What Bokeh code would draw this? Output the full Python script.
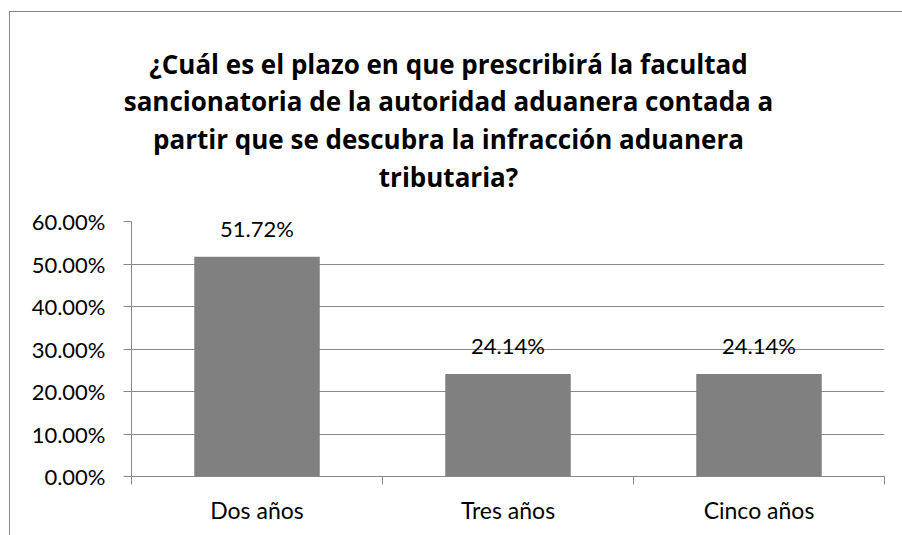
from bokeh.plotting import figure
from bokeh.models import (ColumnDataSource, Range1d, FixedTicker, NumeralTickFormatter,
                          LabelSet, Label)
from bokeh.core.properties import value
from bokeh.embed import file_html
from bokeh.resources import INLINE

categories = ["Dos años", "Tres años", "Cinco años"]
values = [0.5172, 0.2414, 0.2414]
value_labels = ["51.72%", "24.14%", "24.14%"]
y_ticks = [0.0, 0.1, 0.2, 0.3, 0.4, 0.5, 0.6]
title_lines = [
    "¿Cuál es el plazo en que prescribirá la facultad",
    "sancionatoria de la autoridad aduanera contada a",
    "partir que se descubra la infracción aduanera",
    "tributaria?",
]

GRAY = "#888888"
FONT = "Lato"
TITLE_FONT = "Open Sans"

# frame geometry (canvas pixels)
FL, FR, FT, FB = 131, 884, 221, 476
W, H = 902, 535

x = [i + 0.5 for i in range(len(categories))]
bounds = list(range(len(categories) + 1))
src = ColumnDataSource(dict(x=x, top=values, cat=categories, lab=value_labels))

p = figure(width=W, height=H, x_range=Range1d(0, len(categories)), y_range=Range1d(0, 0.6),
           output_backend="svg", toolbar_location=None,
           min_border_left=FL, min_border_right=W - FR, min_border_top=FT,
           min_border_bottom=H - FB)
p.outline_line_color = None
p.background_fill_color = "white"
p.border_fill_alpha = 0
# outer chart border (left and top edges; right/bottom fall outside the window)
p.styles = {
    "background": (f"linear-gradient({GRAY},{GRAY}) 9px 11px / 1px 100% no-repeat, "
                   f"linear-gradient({GRAY},{GRAY}) 9px 11px / 100% 1px no-repeat, white"),
}

p.vbar(x="x", top="top", bottom=0, width=0.5, source=src,
       fill_color="#808080", line_color=None)

# x axis
p.xaxis.ticker = FixedTicker(ticks=x, minor_ticks=bounds)
p.xaxis.major_label_overrides = {xi: c for xi, c in zip(x, categories)}
p.xaxis.major_tick_out = 0
p.xaxis.major_tick_in = 0
p.xaxis.minor_tick_out = 8
p.xaxis.minor_tick_in = 0
p.xaxis.minor_tick_line_color = GRAY
p.xaxis.axis_line_color = GRAY
p.xaxis.major_label_standoff = 11
p.xaxis.major_label_text_font = FONT
p.xaxis.major_label_text_font_size = "23px"
p.xaxis.major_label_text_color = "black"

# y axis
p.yaxis.ticker = FixedTicker(ticks=y_ticks)
p.yaxis.formatter = NumeralTickFormatter(format="0.00%")
p.yaxis.major_tick_out = 8
p.yaxis.major_tick_in = 0
p.yaxis.minor_tick_line_color = None
p.yaxis.major_tick_line_color = GRAY
p.yaxis.axis_line_color = GRAY
p.yaxis.major_label_standoff = 18
p.yaxis.major_label_text_font = FONT
p.yaxis.major_label_text_font_size = "22px"
p.yaxis.major_label_text_color = "black"

p.xgrid.visible = False
p.ygrid.ticker = FixedTicker(ticks=y_ticks)
p.ygrid.grid_line_color = GRAY

labels = LabelSet(x="x", y="top", text="lab", source=src, text_align="center",
                  text_baseline="bottom", y_offset=15,
                  text_font=value(FONT), text_font_size=value("22px"), text_color="black")
p.add_layout(labels)

# title lines, in canvas units, placed in the "above" side panel (not clipped to the frame)
baselines = [63, 100.7, 138.3, 176]
for line, yb in zip(title_lines, baselines):
    p.add_layout(Label(x=448, y=yb, x_units="canvas", y_units="canvas", text=line,
                       text_align="center", text_baseline="alphabetic",
                       text_font=TITLE_FONT, text_font_style="bold", text_font_size="26px",
                       text_color="black"), "above")

open("out.html", "w").write(file_html(p, INLINE))
